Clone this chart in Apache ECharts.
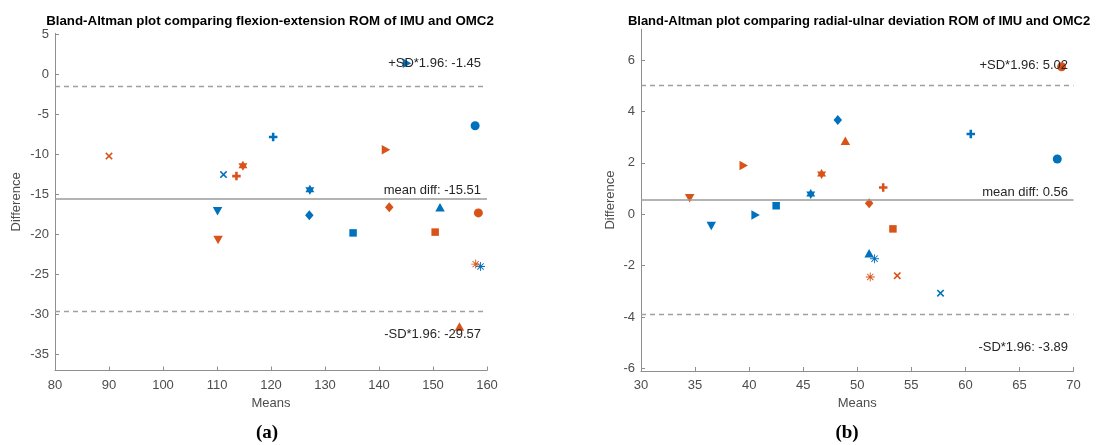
<!DOCTYPE html>
<html>
<head>
<meta charset="utf-8">
<script src="https://cdn.jsdelivr.net/npm/echarts@6/dist/echarts.min.js"></script>
<style>
  html, body { margin: 0; padding: 0; background: #fff; }
  #chart { width: 1097px; height: 445px; }
</style>
</head>
<body>
<div id="chart"></div>
<script>
// (a) flexion-extension : [mean, difference]
var fe_blue = [[111.2, -12.5], [120.4, -7.8], [110.1, -17.1], [127.2, -14.4], [127.1, -17.6],
               [135.2, -19.8], [151.3, -16.6], [157.8, -6.4], [158.8, -24.0], [145.2, 1.4]];
var fe_blue_marks = ['x', '+', 'v', 'h', 'd', 's', '^', 'o', '*', '>'];
var fe_orange = [[90.0, -10.2], [114.8, -11.4], [113.6, -12.7], [110.2, -20.7], [141.3, -9.4],
                 [141.9, -16.6], [150.4, -19.7], [158.4, -17.3], [157.9, -23.7], [154.9, -31.5]];
var fe_orange_marks = ['x', 'h', '+', 'v', '>', 'd', 's', 'o', '*', '^'];
var fe_lines = [-1.45, -15.51, -29.57];   // +SD, mean, -SD
var fe_x_ticks = [80, 90, 100, 110, 120, 130, 140, 150, 160];
var fe_y_ticks = [-35, -30, -25, -20, -15, -10, -5, 0, 5];

// (b) radial-ulnar deviation
var ru_blue = [[36.5, -0.46], [40.6, -0.03], [42.5, 0.33], [45.7, 0.79], [48.2, 3.67],
               [60.5, 3.12], [68.5, 2.15], [51.1, -1.52], [51.6, -1.73], [57.7, -3.07]];
var ru_blue_marks = ['v', '>', 's', 'h', 'd', '+', 'o', '^', '*', 'x'];
var ru_orange = [[34.5, 0.62], [39.5, 1.9], [46.7, 1.57], [48.9, 2.86], [52.4, 1.04],
                 [51.1, 0.43], [53.3, -0.57], [51.2, -2.44], [53.7, -2.39], [68.9, 5.74]];
var ru_orange_marks = ['v', '>', 'h', '^', '+', 'd', 's', '*', 'x', 'o'];
var ru_lines = [5.02, 0.56, -3.89];
var ru_x_ticks = [30, 35, 40, 45, 50, 55, 60, 65, 70];
var ru_y_ticks = [-6, -4, -2, 0, 2, 4, 6];

var BLUE = '#0072BD';
var ORANGE = '#D95319';
var FONT = '"Liberation Sans", Arial, sans-serif';

// matlab marker -> echarts symbol
var SYMBOLS = {
    'o': {symbol: 'circle', size: 9},
    's': {symbol: 'rect', size: 7.5},
    'd': {symbol: 'path://M10,0 L20,12 L10,24 L0,12 Z', size: [8.5, 10]},
    '^': {symbol: 'triangle', size: [9.5, 8.5]},
    'v': {symbol: 'path://M0,0 L20,0 L10,17.3 Z', size: [9.5, 8.5]},
    '>': {symbol: 'path://M0,0 L17.3,10 L0,20 Z', size: [8.5, 9.5]},
    '+': {symbol: 'path://M7,0 L13,0 L13,7 L20,7 L20,13 L13,13 L13,20 L7,20 L7,13 L0,13 L0,7 L7,7 Z', size: 8.5},
    'x': {symbol: 'path://M0,3 L3,0 L10,7 L17,0 L20,3 L13,10 L20,17 L17,20 L10,13 L3,20 L0,17 L7,10 Z', size: 7.5},
    'h': {symbol: 'path://M10,0 L12.887,5 L18.66,5 L15.77,10 L18.66,15 L12.887,15 L10,20 L7.113,15 L1.34,15 L4.23,10 L1.34,5 L7.113,5 Z', size: [9, 10]},
    '*': {symbol: 'path://M0,9 L20,9 L20,11 L0,11 Z M9,0 L11,0 L11,20 L9,20 Z M3.7,2.3 L17.7,16.3 L16.3,17.7 L2.3,3.7 Z M16.3,2.3 L17.7,3.7 L3.7,17.7 L2.3,16.3 Z', size: 9}
};

function build_points(points, marks) {
    var out = [];
    for (var i = 0; i < points.length; i++) {
        var s = SYMBOLS[marks[i]];
        out.push({value: points[i], symbol: s.symbol, symbolSize: s.size});
    }
    return out;
}

function x_axis(idx, min, max, ticks) {
    return {
        gridIndex: idx, type: 'value', min: min, max: max,
        name: 'Means', nameLocation: 'middle', nameGap: 26,
        nameTextStyle: {color: '#4d4d4d', fontSize: 13, fontFamily: FONT},
        axisLine: {show: true, onZero: false, lineStyle: {color: '#8f8f8f', width: 1}},
        axisTick: {show: true, inside: true, length: 4, customValues: ticks, lineStyle: {color: '#8f8f8f'}},
        axisLabel: {color: '#4d4d4d', fontSize: 13, fontFamily: FONT, margin: 8, customValues: ticks},
        splitLine: {show: false}
    };
}

function y_axis(idx, min, max, ticks, gap) {
    return {
        gridIndex: idx, type: 'value', min: min, max: max,
        name: 'Difference', nameLocation: 'middle', nameGap: gap,
        nameTextStyle: {color: '#4d4d4d', fontSize: 13, fontFamily: FONT},
        axisLine: {show: true, onZero: false, lineStyle: {color: '#8f8f8f', width: 1}},
        axisTick: {show: true, inside: true, length: 4, customValues: ticks, lineStyle: {color: '#8f8f8f'}},
        axisLabel: {color: '#4d4d4d', fontSize: 13, fontFamily: FONT, margin: 6, customValues: ticks},
        splitLine: {show: false}
    };
}

function ref_lines(idx, vals, dists) {
    var names = ['+SD*1.96: ', 'mean diff: ', '-SD*1.96: '];
    var data = [];
    for (var i = 0; i < vals.length; i++) {
        data.push({
            yAxis: vals[i],
            lineStyle: i === 1 ? {color: '#9a9a9a', width: 1.5, type: 'solid'}
                               : {color: '#a0a0a0', width: 1.3, type: [5, 4]},
            label: {
                show: true,
                formatter: names[i] + vals[i].toFixed(2),
                position: i === 2 ? 'insideEndBottom' : 'insideEndTop',
                distance: dists[i],
                color: '#262626', fontSize: 13, fontFamily: FONT
            }
        });
    }
    return {
        type: 'scatter', xAxisIndex: idx, yAxisIndex: idx, data: [], z: 5,
        silent: true,
        markLine: {silent: true, symbol: ['none', 'none'], animation: false, data: data}
    };
}

var chart = echarts.init(document.getElementById('chart'), null, {renderer: 'canvas'});
chart.setOption({
    animation: false,
    backgroundColor: '#fff',
    grid: [
        {left: 55, right: 610, top: 33.3, bottom: 74.5},
        {left: 641, right: 23.5, top: 29.2, bottom: 74}
    ],
    xAxis: [x_axis(0, 80, 160, fe_x_ticks), x_axis(1, 30, 70, ru_x_ticks)],
    yAxis: [y_axis(0, -37, 5.15, fe_y_ticks, 32), y_axis(1, -6.1, 7.2, ru_y_ticks, 24)],
    series: [
        {type: 'scatter', xAxisIndex: 0, yAxisIndex: 0, z: 2, itemStyle: {color: BLUE, opacity: 1},
         data: build_points(fe_blue, fe_blue_marks)},
        {type: 'scatter', xAxisIndex: 0, yAxisIndex: 0, z: 3, itemStyle: {color: ORANGE, opacity: 1},
         data: build_points(fe_orange, fe_orange_marks)},
        ref_lines(0, fe_lines, [[6, 16], [6, 2], [6, 17]]),
        {type: 'scatter', xAxisIndex: 1, yAxisIndex: 1, z: 2, itemStyle: {color: BLUE, opacity: 1},
         data: build_points(ru_blue, ru_blue_marks)},
        {type: 'scatter', xAxisIndex: 1, yAxisIndex: 1, z: 3, itemStyle: {color: ORANGE, opacity: 1},
         data: build_points(ru_orange, ru_orange_marks)},
        ref_lines(1, ru_lines, [[5.5, 13.5], [5.5, 1], [5.5, 27]])
    ],
    graphic: [
        {type: 'text', x: 270, y: 21, style: {text: 'Bland-Altman plot comparing flexion-extension ROM of IMU and OMC2',
            font: 'bold 13.3px ' + FONT, fill: '#000', align: 'center', verticalAlign: 'middle'}},
        {type: 'text', x: 859, y: 21, style: {text: 'Bland-Altman plot comparing radial-ulnar deviation ROM of IMU and OMC2',
            font: 'bold 13px ' + FONT, fill: '#000', align: 'center', verticalAlign: 'middle'}},
        {type: 'text', x: 267, y: 433, style: {text: '(a)', font: 'bold 19px "Liberation Serif", serif',
            fill: '#000', align: 'center', verticalAlign: 'middle'}},
        {type: 'text', x: 847, y: 433, style: {text: '(b)', font: 'bold 19px "Liberation Serif", serif',
            fill: '#000', align: 'center', verticalAlign: 'middle'}}
    ]
});
</script>
</body>
</html>
